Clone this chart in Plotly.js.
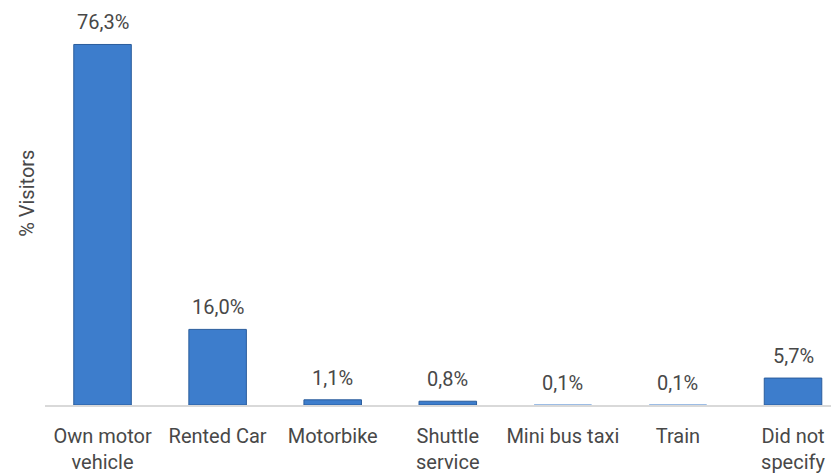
<!DOCTYPE html>
<html>
<head>
<meta charset="utf-8">
<script src="https://cdn.plot.ly/plotly-3.0.1.min.js"></script>
<style>html,body{margin:0;padding:0;background:#fff;}#chart{width:831px;height:475px;}</style>
</head>
<body>
<div id="chart"></div>
<script>
const categories = ["Own motor<br>vehicle", "Rented Car", "Motorbike", "Shuttle<br>service", "Mini bus taxi", "Train", "Did not<br>specify"];
const values = [76.3, 16.0, 1.1, 0.8, 0.1, 0.1, 5.7];
const labels = values.map(v => v.toFixed(1).replace('.', ',') + '%');

const FONT = "Roboto, Liberation Sans, sans-serif";
const FS = 20;
const TXT = "#484848";

const trace = {
  type: 'bar',
  x: categories,
  y: values,
  width: 0.5,
  marker: {
    color: '#3d7dcc',
    line: { color: '#2b5d9c', width: values.map(v => v >= 0.5 ? 1 : 0) }
  },
  hoverinfo: 'none'
};

const annotations = categories.map((c, i) => ({
  x: c, y: values[i], xref: 'x', yref: 'y',
  text: labels[i], showarrow: false,
  yanchor: 'middle', yshift: 22,
  font: { family: FONT, size: FS, color: TXT }
}));
annotations.push({
  xref: 'paper', yref: 'paper', x: -0.023, y: 0.561,
  text: '% Visitors', textangle: -90, showarrow: false,
  xanchor: 'center', yanchor: 'middle',
  font: { family: FONT, size: FS, color: TXT }
});

const layout = {
  width: 831, height: 475,
  margin: { l: 45, r: 0, t: 27, b: 70 },
  paper_bgcolor: '#fff', plot_bgcolor: '#fff',
  showlegend: false,
  font: { family: FONT, size: FS, color: TXT },
  xaxis: {
    type: 'category',
    range: [-0.5, 6.33],
    showline: true, linecolor: '#d9d9d9', linewidth: 2,
    showgrid: false, zeroline: false, ticks: '',
    tickfont: { family: FONT, size: FS, color: TXT },
    ticklabelstandoff: 12
  },
  yaxis: {
    range: [0, 80],
    showline: false, showgrid: false, zeroline: false,
    showticklabels: false, ticks: ''
  },
  annotations: annotations
};

Plotly.newPlot('chart', [trace], layout, { displayModeBar: false, staticPlot: true });
</script>
</body>
</html>
